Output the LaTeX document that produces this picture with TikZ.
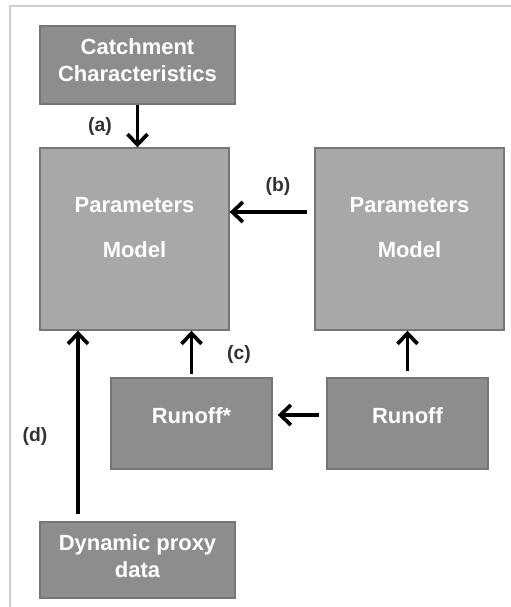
\documentclass[tikz,border=0pt]{standalone}
\usepackage{fontspec}
\setmainfont{Liberation Sans}
\usetikzlibrary{arrows.meta}
\definecolor{boxdark}{RGB}{141,141,141}
\definecolor{boxlight}{RGB}{168,168,168}
\definecolor{boxedge}{RGB}{118,118,118}
\definecolor{framegray}{RGB}{205,205,205}
\definecolor{tagtext}{RGB}{50,50,50}
\tikzset{
  darkbox/.style={draw=boxedge,line width=0.8pt,fill=boxdark,minimum width=3.9cm},
  lightbox/.style={draw=boxedge,line width=0.8pt,fill=boxlight,minimum width=3.78cm,minimum height=3.64cm},
  inbox/.style={text=white,font=\bfseries\fontsize{12.5}{15}\selectfont,align=center},
  arr/.style={line width=2.1pt,-{Straight Barb[length=2.1mm,width=4mm]}},
  tag/.style={text=tagtext,font=\bfseries\fontsize{11}{13}\selectfont}
}
\begin{document}
\begin{tikzpicture}
\useasboundingbox (0,0) rectangle (10.22,-12.14);
\draw[framegray,line width=0.6pt] (0.2,-12.14) -- (0.2,-0.12) -- (10.22,-0.12);
% boxes
\node[darkbox,minimum height=1.56cm,label={[inbox,yshift=1mm]center:Catchment\\Characteristics}] (catch) at (2.75,-1.30) {};
\node[lightbox,label={[inbox,yshift=2.3mm,font=\bfseries\fontsize{12.5}{25.6}\selectfont]center:Parameters\\Model}] (parL) at (2.69,-4.78) {};
\node[lightbox,label={[inbox,yshift=2.3mm,font=\bfseries\fontsize{12.5}{25.6}\selectfont]center:Parameters\\Model}] (parR) at (8.19,-4.78) {};
\node[darkbox,minimum width=3.22cm,minimum height=1.82cm,label={[inbox,yshift=1.6mm]center:Runoff*}] (runS) at (3.83,-8.47) {};
\node[darkbox,minimum width=3.22cm,minimum height=1.82cm,label={[inbox,yshift=1.6mm]center:Runoff}] (run) at (8.15,-8.47) {};
\node[darkbox,minimum height=1.52cm,label={[inbox,yshift=0.8mm]center:Dynamic proxy\\data}] (dyn) at (2.75,-11.20) {};
% arrows
\draw[arr] (catch.south) -- (catch.south |- parL.north) node[tag,midway,left=3.6mm] {(a)};
\draw[arr,shorten <=1.4mm] ([yshift=5.4mm]parR.west) -- ([yshift=5.4mm]parL.east) node[tag,midway,above=1.8mm,xshift=1.2mm] {(b)};
\draw[arr,shorten <=0.6mm] (runS.north) -- (runS.north |- parL.south) node[tag,midway,right=5.6mm] {(c)};
\draw[arr,shorten <=1.2mm] (run.north) -- (run.north |- parR.south);
\draw[arr,shorten <=1.4mm,shorten >=1mm] ([yshift=1.7mm]run.west) -- ([yshift=1.7mm]runS.east);
\draw[arr,shorten <=1.4mm] ([xshift=-11.9mm]dyn.north) -- ([xshift=-11.9mm]dyn.north |- parL.south) node[tag,midway,left=4.6mm,yshift=-2mm] {(d)};
\end{tikzpicture}
\end{document}
